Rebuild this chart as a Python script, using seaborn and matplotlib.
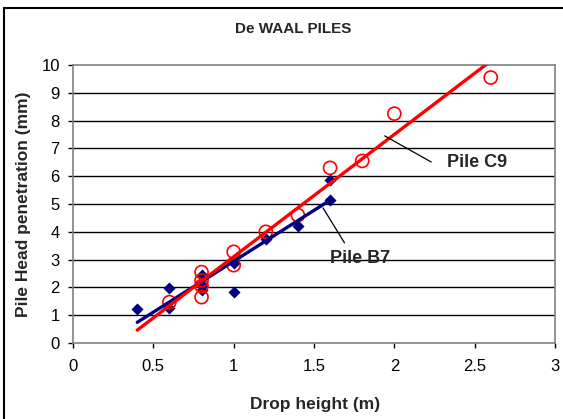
import numpy as np
import pandas as pd
import seaborn as sns
import matplotlib
matplotlib.use("Agg")
import matplotlib.pyplot as plt
from matplotlib.lines import Line2D

# Data
b7_drop = [0.4, 0.6, 0.6, 0.8, 0.8, 0.8, 1.0, 1.0, 1.2, 1.4, 1.6, 1.6]
b7_pen = [1.22, 1.98, 1.26, 2.45, 1.9, 2.1, 2.87, 1.83, 3.74, 4.2, 5.86, 5.14]
c9_drop = [0.6, 0.8, 0.8, 0.8, 0.8, 1.0, 1.0, 1.2, 1.4, 1.6, 1.8, 2.0, 2.6]
c9_pen = [1.47, 2.55, 2.25, 2.05, 1.65, 3.28, 2.8, 4.0, 4.6, 6.3, 6.55, 8.25, 9.55]
b7_fit_range = [0.4, 1.6]
c9_fit_range = [0.4, 2.6]
x_ticks = [0, 0.5, 1, 1.5, 2, 2.5, 3]
x_tick_labels = ["0", "0.5", "1", "1.5", "2", "2.5", "3"]
y_ticks = list(range(0, 11))

sns.set_style("white")
plt.rcParams['font.family'] = ['Liberation Sans', 'DejaVu Sans']

df_b7 = pd.DataFrame({"drop": b7_drop, "pen": b7_pen})
df_c9 = pd.DataFrame({"drop": c9_drop, "pen": c9_pen})

W, H = 563, 419
fig = plt.figure(figsize=(W / 100, H / 100), dpi=100)
ax = fig.add_axes([73 / W, 1 - 343 / H, (555 - 73) / W, (343 - 65) / H])

for y in y_ticks[1:-1]:
    ax.axhline(y, color='black', lw=1.0, zorder=0)

sns.scatterplot(data=df_b7, x="drop", y="pen", ax=ax, marker="D", s=38,
                color="#000080", edgecolor="#000080", linewidth=0, zorder=3)
sns.scatterplot(data=df_c9, x="drop", y="pen", ax=ax, marker="o", s=88,
                facecolor="none", edgecolor="#FF0000", linewidth=1.2, zorder=4)

# linear trendlines
kb = np.polyfit(b7_drop, b7_pen, 1)
kc = np.polyfit(c9_drop, c9_pen, 1)
xb = np.array(b7_fit_range)
xc = np.array(c9_fit_range)
ax.plot(xb, np.polyval(kb, xb), color="#000080", lw=2.4, zorder=5)
ax.plot(xc, np.polyval(kc, xc), color="#FF0000", lw=2.4, zorder=6)

ax.set_xlim(0, 3)
ax.set_ylim(0, 10)
ax.set_xticks(x_ticks)
ax.set_xticklabels(x_tick_labels)
ax.set_yticks(y_ticks)
ax.tick_params(axis='both', labelsize=12, length=3.5, width=1, direction='out',
               bottom=True, left=True, colors='black')
ax.tick_params(axis='x', pad=8)
ax.tick_params(axis='y', pad=6)
for s in ['top', 'right', 'left', 'bottom']:
    ax.spines[s].set_color('#808080')
    ax.spines[s].set_linewidth(1.2)

ax.set_xlabel("Drop height (m)", fontsize=12.5, fontweight='bold')
ax.xaxis.label.set_va('center')
ax.xaxis.set_label_coords((315 - 73) / 482, (343 - 404) / 278)
ax.set_ylabel("Pile Head penetration (mm)", fontsize=12.5, fontweight='bold')
ax.yaxis.label.set_va('center')
ax.yaxis.set_label_coords((24 - 73) / 482, 0.5)
fig.text(293 / W, 1 - 29 / H, "De WAAL PILES", ha='center', va='center',
         fontsize=11, fontweight='bold')

# annotations
ax.plot([1.94, 2.23], [7.45, 6.51], color='black', lw=0.9, zorder=7)
ax.text(2.33, 6.5, "Pile C9", fontsize=13, fontweight='bold', va='center', ha='left')
ax.plot([1.556, 1.69], [4.86, 3.6], color='black', lw=0.9, zorder=7)
ax.text(1.6, 3.05, "Pile B7", fontsize=13, fontweight='bold', va='center', ha='left')

# outer chart frame (top and left edges visible)
fig.add_artist(Line2D([4 / W, 1], [1 - 8 / H, 1 - 8 / H], transform=fig.transFigure,
                      color='black', lw=1.5))
fig.add_artist(Line2D([4 / W, 4 / W], [0, 1 - 8 / H], transform=fig.transFigure,
                      color='black', lw=1.5))

fig.savefig("out.png", dpi=100)
